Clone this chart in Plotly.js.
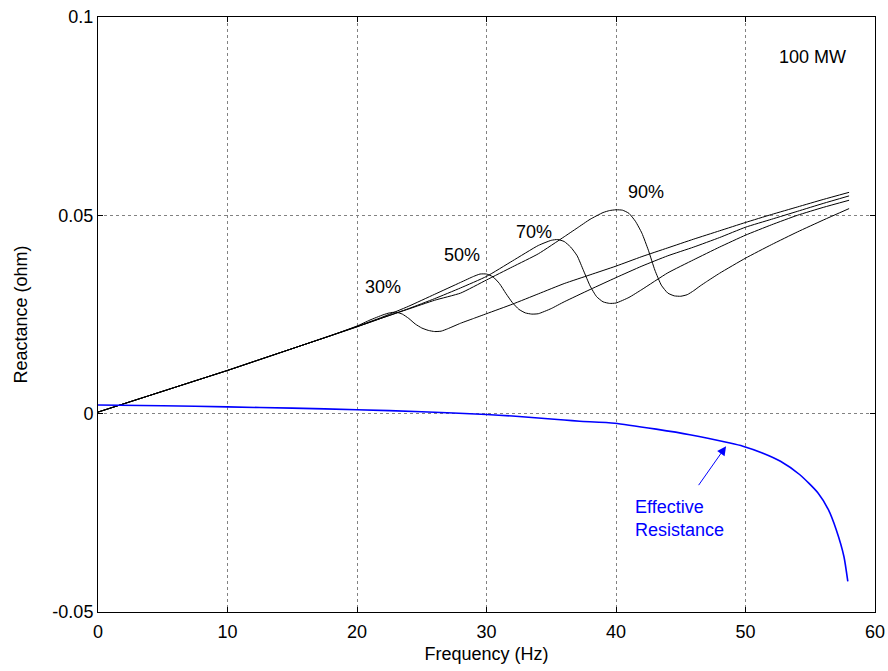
<!DOCTYPE html>
<html>
<head>
<meta charset="utf-8">
<script src="https://cdn.plot.ly/plotly-3.0.1.min.js"></script>
<style>html,body{margin:0;padding:0;background:#fff}#chart{width:888px;height:671px}</style>
</head>
<body>
<div id="chart"></div>
<script>
// Shared rising section (all four curves)
const baseF = [0, 2, 4, 6, 8, 10, 12, 14, 16, 18];
const baseX = [0.0004, 0.0025, 0.0046, 0.0067, 0.0088, 0.0109, 0.0131, 0.0153, 0.0175, 0.0197];

// 30 %
const f30 = [20, 21, 22, 22.5, 23, 23.5, 24, 24.5, 25, 25.5, 26, 26.5, 27, 28, 29, 30, 32, 34, 36, 38, 40, 42, 44, 46, 48, 50, 52, 54, 56, 58];
const x30 = [0.0221, 0.0236, 0.0249, 0.0254, 0.0256, 0.0251, 0.0240, 0.0226, 0.0216, 0.0210, 0.0207, 0.0208, 0.0214, 0.0228, 0.0240, 0.0252, 0.0276, 0.0302, 0.0328, 0.0350, 0.0372, 0.0396, 0.0418, 0.0440, 0.0461, 0.0482, 0.0502, 0.0521, 0.0540, 0.0558];

// 50 %
const f50 = [20, 22, 24, 26, 28, 29, 29.5, 30, 30.5, 31, 31.5, 32, 32.5, 33, 33.5, 34, 35, 36, 38, 40, 42, 44, 46, 48, 50, 52, 54, 56, 58];
const x50 = [0.0220, 0.0244, 0.0271, 0.0301, 0.0331, 0.0346, 0.0352, 0.0352, 0.0345, 0.0328, 0.0303, 0.0280, 0.0263, 0.0254, 0.0251, 0.0252, 0.0265, 0.0282, 0.0313, 0.0343, 0.0372, 0.0398, 0.0420, 0.0444, 0.0470, 0.0490, 0.0510, 0.0530, 0.0549];

// 70 %
const f70 = [20, 22, 24, 26, 28, 30, 32, 34, 35, 35.5, 36, 36.5, 37, 37.5, 38, 38.5, 39, 39.5, 40, 41, 42, 44, 46, 48, 50, 52, 54, 56, 58];
const x70 = [0.0219, 0.0242, 0.0265, 0.0290, 0.0317, 0.0346, 0.0385, 0.0424, 0.0437, 0.0439, 0.0434, 0.0420, 0.0398, 0.0360, 0.0322, 0.0295, 0.0282, 0.0278, 0.0279, 0.0293, 0.0313, 0.0355, 0.0388, 0.0420, 0.0450, 0.0476, 0.0500, 0.0520, 0.0538];

// 90 %
const f90 = [20, 22, 24, 26, 28, 30, 32, 34, 36, 37, 38, 39, 39.5, 40, 40.5, 41, 41.5, 42, 42.5, 43, 43.5, 44, 44.5, 45, 45.5, 46, 46.5, 47, 48, 50, 52, 54, 56, 58];
const x90 = [0.0219, 0.0242, 0.0264, 0.0286, 0.0304, 0.0337, 0.0370, 0.0403, 0.0446, 0.0468, 0.0490, 0.0507, 0.0512, 0.0514, 0.0513, 0.0505, 0.0485, 0.0455, 0.0412, 0.0362, 0.0324, 0.0304, 0.0297, 0.0296, 0.0300, 0.0310, 0.0322, 0.0333, 0.0354, 0.0392, 0.0426, 0.0458, 0.0488, 0.0517];

// Effective resistance (blue)
const fR = [0, 5, 10, 15, 20, 25, 30, 32, 34, 36, 37.2, 39.9, 43.1, 45.7, 48.8, 49.8, 51.3, 52.7, 54.2, 55.6, 56.4, 57.0, 57.6, 57.9];
const xR = [0.0022, 0.0020, 0.0017, 0.0014, 0.0010, 0.0005, -0.0002, -0.0006, -0.0011, -0.0016, -0.0019, -0.0024, -0.0039, -0.0053, -0.0074, -0.0082, -0.0099, -0.0120, -0.0154, -0.0200, -0.0242, -0.0292, -0.0360, -0.0423];

const xTicks = [0, 10, 20, 30, 40, 50, 60];
const yTicks = [-0.05, 0, 0.05, 0.1];
const yTickText = ['-0.05', '0', '0.05', '0.1'];

const labels = ['30%', '50%', '70%', '90%'];
const labelF = [22.0, 28.1, 33.7, 42.3];
const labelX = [0.0320, 0.0401, 0.0459, 0.0560];

function join(a, b) { return a.concat(b); }

const blackLine = {color: '#000000', width: 1, shape: 'spline', smoothing: 0.5};
const traces = [
  {x: join(baseF, f30), y: join(baseX, x30), mode: 'lines', line: blackLine, name: '30%'},
  {x: join(baseF, f50), y: join(baseX, x50), mode: 'lines', line: blackLine, name: '50%'},
  {x: join(baseF, f70), y: join(baseX, x70), mode: 'lines', line: blackLine, name: '70%'},
  {x: join(baseF, f90), y: join(baseX, x90), mode: 'lines', line: blackLine, name: '90%'},
  {x: fR, y: xR, mode: 'lines', line: {color: '#0000ff', width: 1.6, shape: 'spline', smoothing: 0.6}, name: 'Effective Resistance'}
];

const font = {family: 'Liberation Sans, Arial, sans-serif', size: 18, color: '#000'};

const annotations = labels.map((t, i) => ({
  x: labelF[i], y: labelX[i], xref: 'x', yref: 'y', text: t, showarrow: false,
  font: font
}));
annotations.push({x: 57.9, y: 0.090, xref: 'x', yref: 'y', text: '100 MW', showarrow: false, xanchor: 'right', font: font});
annotations.push({x: 41.3, y: -0.0265, xref: 'x', yref: 'y', text: 'Effective<br>Resistance', showarrow: false,
  xanchor: 'left', align: 'left', font: {family: font.family, size: 18, color: '#0000ff'}});
annotations.push({x: 48.5, y: -0.0082, ax: 46.3, ay: -0.0184, xref: 'x', yref: 'y', axref: 'x', ayref: 'y',
  text: '', showarrow: true, arrowhead: 2, arrowsize: 1.8, arrowwidth: 1, arrowcolor: '#0000ff'});

const axisCommon = {
  showline: true, linecolor: '#000', linewidth: 1, mirror: 'ticks',
  ticks: 'inside', ticklen: 5, tickcolor: '#000',
  showgrid: true, gridcolor: 'rgb(130,130,130)', griddash: 'dot', gridwidth: 1,
  zeroline: false, tickfont: font
};

const layout = {
  width: 888, height: 671,
  margin: {l: 98, r: 13, t: 17, b: 59},
  paper_bgcolor: '#fff', plot_bgcolor: '#fff',
  showlegend: false,
  font: font,
  xaxis: Object.assign({}, axisCommon, {
    range: [0, 60], tickvals: xTicks, ticktext: xTicks.map(String), ticklabelstandoff: 3,
    title: {text: 'Frequency (Hz)', font: font, standoff: 6}
  }),
  yaxis: Object.assign({}, axisCommon, {
    range: [-0.05, 0.1], tickvals: yTicks, ticktext: yTickText,
    title: {text: 'Reactance (ohm)', font: font, standoff: 20}
  }),
  annotations: annotations
};

Plotly.newPlot('chart', traces, layout, {staticPlot: true, displayModeBar: false});
</script>
</body>
</html>
